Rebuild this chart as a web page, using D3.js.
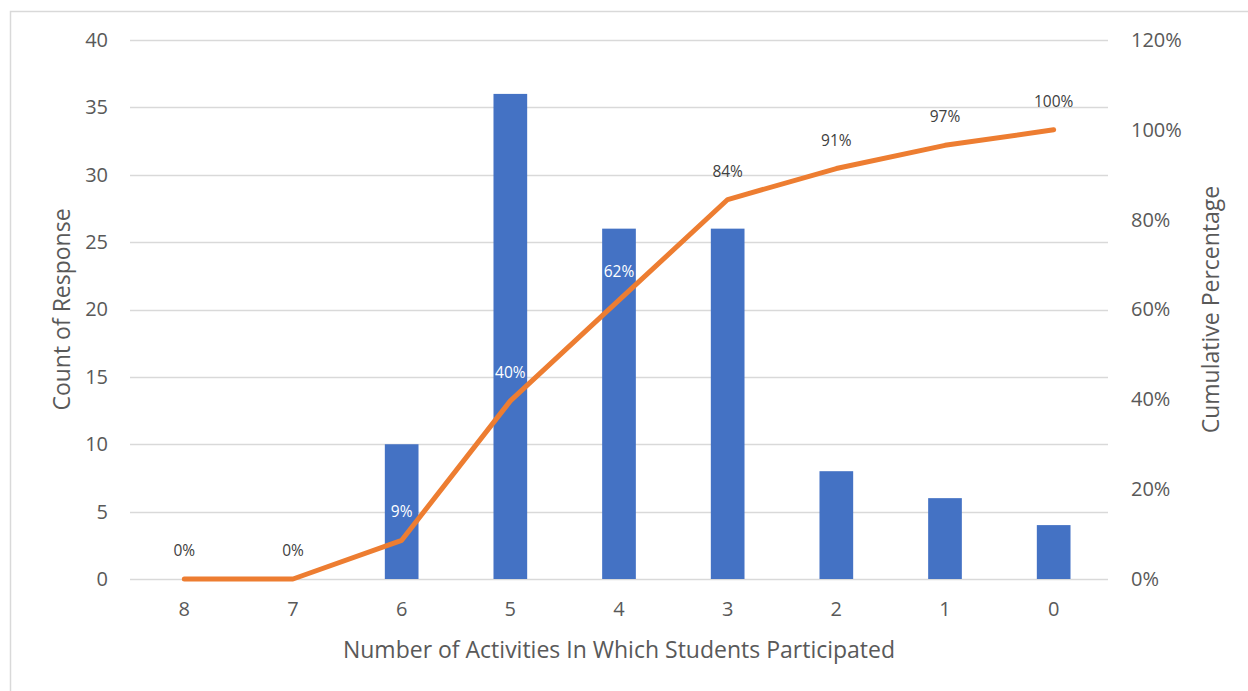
<!DOCTYPE html>
<html>
<head>
<meta charset="utf-8">
<script src="https://cdn.jsdelivr.net/npm/d3@7"></script>
<style>
  html, body { margin: 0; padding: 0; background: #fff; }
  svg text { font-family: "Open Sans", "Noto Sans", sans-serif; }
</style>
</head>
<body>
<svg id="chart" width="1248" height="691"></svg>
<script>
// Responses per number of activities, ordered from most to fewest
const categories = ["8", "7", "6", "5", "4", "3", "2", "1", "0"];
const counts = [0, 0, 10, 36, 26, 26, 8, 6, 4];
const countTicks = [0, 5, 10, 15, 20, 25, 30, 35, 40];
const pctTicks = [0, 0.2, 0.4, 0.6, 0.8, 1.0, 1.2];

// Running share of all responses
const total = d3.sum(counts);
const cumulative = d3.cumsum(counts).map(v => v / total);

const svg = d3.select("#chart");
const W = 1248, H = 691;
const m = { left: 130, right: 140, top: 40, bottom: 112 };
const innerRight = W - m.right;
const innerBottom = H - m.bottom;

// outer frame
svg.append("rect")
  .attr("x", 10.5).attr("y", 11.5)
  .attr("width", W + 10).attr("height", H + 10)
  .attr("fill", "none").attr("stroke", "#d9d9d9").attr("stroke-width", 1.5);

const x = d3.scaleBand().domain(categories).range([m.left, innerRight]).paddingInner(0.69).paddingOuter(0.345);
const yL = d3.scaleLinear().domain([0, 40]).range([innerBottom, m.top]);
const yR = d3.scaleLinear().domain([0, 1.2]).range([innerBottom, m.top]);

// gridlines
svg.append("g").selectAll("line").data(countTicks).join("line")
  .attr("x1", m.left).attr("x2", innerRight)
  .attr("y1", d => Math.round(yL(d)) + 0.5).attr("y2", d => Math.round(yL(d)) + 0.5)
  .attr("stroke", "#d9d9d9").attr("stroke-width", 1.5);

// left axis
const axL = svg.append("g").attr("transform", `translate(${m.left},0)`)
  .call(d3.axisLeft(yL).tickValues(countTicks).tickSize(0).tickPadding(22));
axL.select(".domain").remove();
axL.selectAll("text").attr("fill", "#595959").style("font-size", "20px");

// right axis
const axR = svg.append("g").attr("transform", `translate(${innerRight},0)`)
  .call(d3.axisRight(yR).tickValues(pctTicks).tickFormat(d3.format(".0%")).tickSize(0).tickPadding(23));
axR.select(".domain").remove();
axR.selectAll("text").attr("fill", "#595959").style("font-size", "20px");

// bottom axis
const axB = svg.append("g").attr("transform", `translate(0,${innerBottom})`)
  .call(d3.axisBottom(x).tickSize(0).tickPadding(23));
axB.select(".domain").remove();
axB.selectAll("text").attr("fill", "#595959").style("font-size", "20px");

// bars
svg.append("g").selectAll("rect").data(categories).join("rect")
  .attr("x", d => x(d))
  .attr("width", x.bandwidth())
  .attr("y", (d, i) => yL(counts[i]))
  .attr("height", (d, i) => yL(0) - yL(counts[i]))
  .attr("fill", "#4472C4");

// cumulative line
const pts = categories.map((c, i) => [x(c) + x.bandwidth() / 2, yR(cumulative[i])]);
svg.append("path")
  .attr("d", d3.line()(pts))
  .attr("fill", "none").attr("stroke", "#ED7D31").attr("stroke-width", 5)
  .attr("stroke-linejoin", "round").attr("stroke-linecap", "round");

// percentage labels, white where they sit over a bar
svg.append("g").selectAll("text").data(categories).join("text")
  .attr("x", (d, i) => pts[i][0])
  .attr("y", (d, i) => pts[i][1] - 23)
  .attr("text-anchor", "middle")
  .style("font-size", "15.5px")
  .attr("fill", (d, i) => (yL(counts[i]) < pts[i][1] - 30 ? "#ffffff" : "#404040"))
  .text((d, i) => d3.format(".0%")(cumulative[i]));

// axis titles
svg.append("text")
  .attr("x", (m.left + innerRight) / 2).attr("y", 658)
  .attr("text-anchor", "middle").attr("fill", "#595959").style("font-size", "23px")
  .text("Number of Activities In Which Students Participated");

svg.append("text")
  .attr("transform", `translate(70,${(m.top + innerBottom) / 2}) rotate(-90)`)
  .attr("text-anchor", "middle").attr("fill", "#595959").style("font-size", "23px")
  .text("Count of Response");

svg.append("text")
  .attr("transform", `translate(1219,${(m.top + innerBottom) / 2}) rotate(-90)`)
  .attr("text-anchor", "middle").attr("fill", "#595959").style("font-size", "23px")
  .text("Cumulative Percentage");
</script>
</body>
</html>
